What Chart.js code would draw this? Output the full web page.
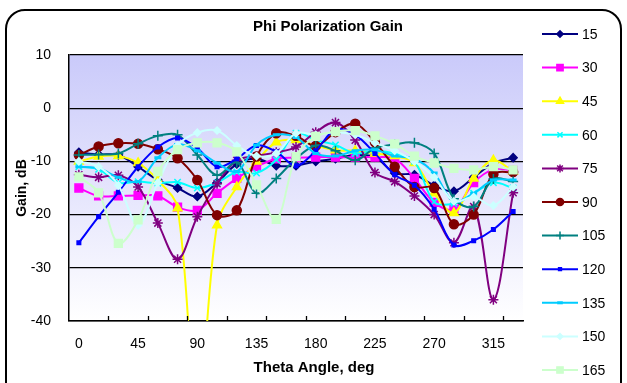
<!DOCTYPE html>
<html>
<head>
<meta charset="utf-8">
<script src="https://cdn.jsdelivr.net/npm/chart.js@4.4.1/dist/chart.umd.min.js"></script>
<style>
html, body { margin: 0; padding: 0; background: #fff; }
#frame { position: absolute; left: 5px; top: 9px; width: 617px; height: 420px; border: 2px solid #000; border-radius: 20px; box-sizing: border-box; }
#wrap { position: absolute; left: 0; top: 0; width: 627px; height: 383px; }
</style>
</head>
<body>
<div id="frame"></div>
<div id="wrap"><canvas id="gainC" width="627" height="383"></canvas></div>
<script>
// theta angles (x axis)
const thetaLabels = ['0', '15', '30', '45', '60', '75', '90', '105', '120', '135', '150', '165',
	'180', '195', '210', '225', '240', '255', '270', '285', '300', '315', '330'];
// one series per phi angle, gain in dB
const phi15 = [-8.3, -8.7, -8.8, -11, -13.5, -15, -16.6, -14, -10.5, -9.5, -10.8, -10.8, -10, -9.5, -8.8, -9.2, -12.2, -12.5, -14.5, -15.6, -13, -10.3, -9.3];
const phi30 = [-15, -16.5, -16.5, -16.4, -16.5, -18.6, -19.2, -16, -13.2, -11, -9.5, -9.3, -9.2, -9.2, -9.2, -9.2, -9.5, -13.2, -17.7, -19, -14, -11.5, -11.7];
const phi45 = [-10, -9.1, -9, -10.3, -13.5, -18.8, -58, -22, -14.8, -10, -6.4, -6, -7, -7.9, -8, -8.5, -9, -10.3, -16, -19.7, -13.2, -9.8, -11.9];
const phi60 = [-11, -11.5, -14, -13.8, -14.1, -13.9, -15, -14, -12, -12.2, -9.7, -4.7, -6, -6.9, -8.5, -8, -8.5, -10, -17.6, -17.9, -16, -14, -15];
const phi75 = [-12.5, -13, -12.6, -14.8, -21.6, -28.4, -20.4, -14.2, -9.8, -9, -8.3, -7.3, -4.5, -2.7, -6, -12.1, -13.8, -16.5, -20, -25.3, -18.5, -36, -15.9];
const phi90 = [-8.8, -7.2, -6.6, -6.7, -7.7, -9.4, -13.5, -20.1, -19.2, -9.1, -4.7, -5.2, -7.1, -4.5, -2.9, -6.4, -11, -14.8, -15, -21.8, -20, -12.4, -12];
const phi105 = [-8.8, -8.7, -8.5, -6.7, -5.2, -5, -8.8, -12.6, -10.2, -16, -13.2, -9.5, -7, -8, -9.8, -7.5, -6.8, -6.5, -8.5, -17, -18.5, -13.3, -13.8];
const phi120 = [-25.3, -20.4, -15.8, -11, -7.3, -5.6, -7.5, -11, -9.5, -7, -8.2, -10.8, -8, -4, -5, -8.5, -12.5, -14.5, -19, -25.7, -24.9, -22.8, -19.4];
const phi135 = [-11, -11.3, -13, -13.8, -9.3, -6.8, -8, -10.3, -11.9, -6.9, -5, -5.5, -8.5, -9, -8, -7.8, -9, -9.5, -12.2, -17.6, -16, -13.5, -13.5];
const phi150 = [-10, -11, -14.5, -22, -14, -7, -4.6, -4.2, -7, -9, -8.5, -4.7, -5, -4.5, -5, -6.5, -8, -10, -13, -17.5, -16.7, -18.3, -14.8];
const phi165 = [-12.9, -15.9, -25.4, -21, -11.9, -7.8, -6.5, -6.5, -8.2, -14.4, -20.9, -9.1, -5.3, -4.4, -4.2, -5.2, -6.7, -9, -10.3, -11.3, -11.6, -11, -11.6];
const gainTicks = [10, 0, -10, -20, -30, -40];

const chartTitle = 'Phi Polarization Gain';
const xTitle = 'Theta Angle, deg';
const yTitle = 'Gain, dB';

const FONT = '"Liberation Sans", Arial, sans-serif';
Chart.defaults.font.family = FONT;
Chart.defaults.font.size = 14;
Chart.defaults.color = '#000';

// name, data, colour, marker, marker radius
const seriesDefs = [
	['15', phi15, '#000080', 'rectRot', 4],
	['30', phi30, '#ff00ff', 'rect', 5.5],
	['45', phi45, '#ffff00', 'triangle', 5],
	['60', phi60, '#00ffff', 'crossRot', 4.5],
	['75', phi75, '#800080', 'star', 5],
	['90', phi90, '#800000', 'circle', 4.5],
	['105', phi105, '#008080', 'cross', 5],
	['120', phi120, '#0000ff', 'rect', 2.5],
	['135', phi135, '#00ccff', 'line', 3.5],
	['150', phi150, '#ccffff', 'rectRot', 3.5],
	['165', phi165, '#ccffcc', 'rect', 5.5]
];

const datasets = seriesDefs.map((s, i) => ({
	label: s[0],
	data: s[1],
	borderColor: s[2],
	backgroundColor: s[2],
	pointBackgroundColor: s[2],
	pointBorderColor: s[2],
	pointStyle: s[3],
	pointRadius: s[4],
	pointHoverRadius: s[4],
	pointBorderWidth: (s[3] == 'line' ? 3 : 1.5),
	borderWidth: 2,
	tension: 0.35,
	fill: false,
	order: seriesDefs.length - i
}));

// gradient behind the plot area
const plotBg = {
	id: 'plotBg',
	beforeDraw(chart) {
		const ctx = chart.ctx, a = chart.chartArea;
		const g = ctx.createLinearGradient(0, a.top, 0, a.bottom);
		g.addColorStop(0, 'rgb(202,202,250)');
		g.addColorStop(1, 'rgb(255,255,255)');
		ctx.save();
		ctx.fillStyle = g;
		ctx.fillRect(a.left, a.top, a.right - a.left, a.bottom - a.top);
		ctx.restore();
	}
};

// short tick marks pointing into the plot, every second category boundary
const innerTicks = {
	id: 'innerTicks',
	afterDraw(chart) {
		const x = chart.scales.x, a = chart.chartArea, ctx = chart.ctx;
		ctx.save();
		ctx.strokeStyle = '#000';
		ctx.lineWidth = 1.3;
		for (let i = 2; i < thetaLabels.length; i += 2) {
			const px = Math.round((x.getPixelForValue(i - 1) + x.getPixelForValue(i)) / 2) + 0.5;
			ctx.beginPath();
			ctx.moveTo(px, a.bottom);
			ctx.lineTo(px, a.bottom - 5);
			ctx.stroke();
		}
		ctx.restore();
	}
};

// chart title, x title and the line+marker legend
const textBits = {
	id: 'textBits',
	afterDraw(chart) {
		const ctx = chart.ctx, a = chart.chartArea;
		ctx.save();
		ctx.fillStyle = '#000';
		ctx.textAlign = 'center';
		ctx.textBaseline = 'middle';
		ctx.font = 'bold 15px ' + FONT;
		ctx.fillText(chartTitle, 328, 27);
		ctx.fillText(xTitle, (a.left + a.right) / 2 + 18, 368);
		chart.data.datasets.forEach((ds, i) => {
			const y = 34 + i * 33.6;
			ctx.strokeStyle = ds.borderColor;
			ctx.lineWidth = 2;
			ctx.beginPath();
			ctx.moveTo(542, y);
			ctx.lineTo(578, y);
			ctx.stroke();
			ctx.fillStyle = ds.pointBackgroundColor;
			ctx.strokeStyle = ds.pointBorderColor;
			ctx.lineWidth = ds.pointBorderWidth;
			Chart.helpers.drawPoint(ctx, {
				pointStyle: ds.pointStyle,
				radius: ds.pointRadius * 0.8,
				borderWidth: ds.pointBorderWidth,
				rotation: 0
			}, 560, y);
			ctx.fillStyle = '#000';
			ctx.textAlign = 'left';
			ctx.font = '14px ' + FONT;
			ctx.fillText(ds.label, 582, y + 1);
		});
		ctx.restore();
	}
};

const gainChart = new Chart(document.getElementById('gainC'), {
	type: 'line',
	data: {
		labels: thetaLabels,
		datasets
	},
	options: {
		responsive: false,
		animation: false,
		events: [],
		layout: {
			padding: { left: 0, top: 55, right: 104, bottom: 0 }
		},
		plugins: {
			legend: { display: false },
			tooltip: { enabled: false }
		},
		scales: {
			x: {
				offset: true,
				grid: { display: false },
				border: { display: true, color: '#000', width: 1.5 },
				ticks: {
					autoSkip: false,
					maxRotation: 0,
					padding: 7,
					callback: (v, i) => (i % 3 == 0 ? thetaLabels[i] : '')
				},
				afterFit: (s) => { s.height = 62; }
			},
			y: {
				min: -40,
				max: 10,
				afterBuildTicks: (s) => { s.ticks = gainTicks.map(v => ({ value: v })); },
				grid: { color: '#000', lineWidth: 1.3, drawTicks: false },
				border: { display: true, color: '#000', width: 1.5 },
				ticks: { padding: 18 },
				title: {
					display: true,
					text: yTitle,
					font: { size: 14, weight: 'bold' },
					padding: { top: 14, bottom: 0 }
				},
				afterFit: (s) => { s.width = 69; }
			}
		}
	},
	plugins: [plotBg, innerTicks, textBits]
});
</script>
</body>
</html>
